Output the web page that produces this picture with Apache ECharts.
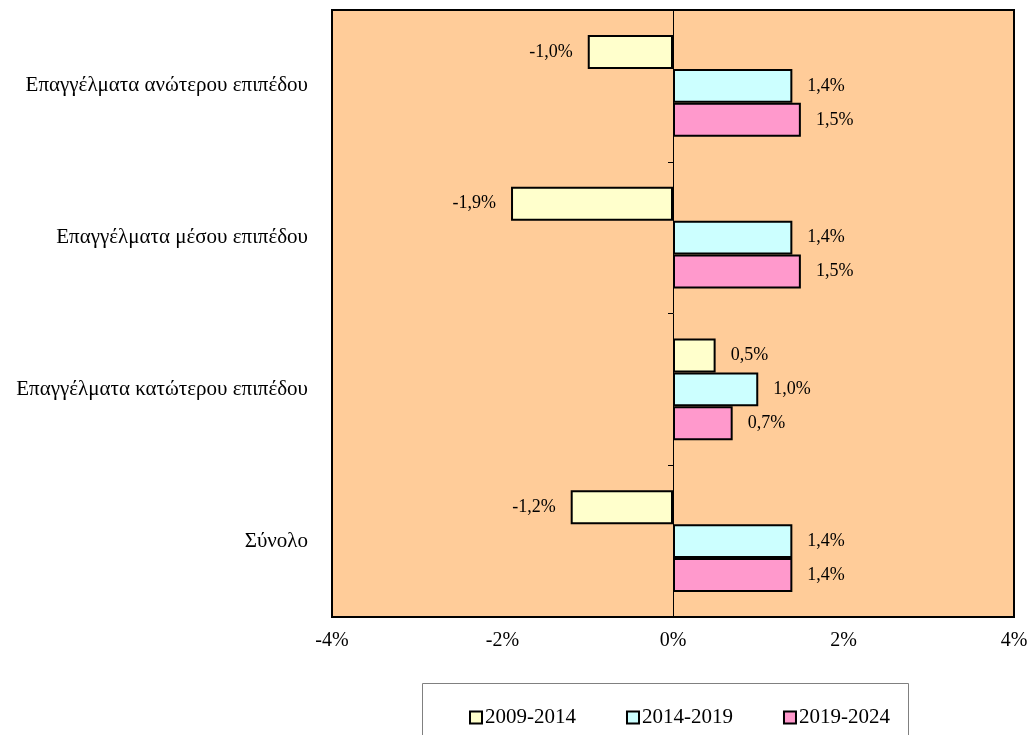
<!DOCTYPE html>
<html>
<head>
<meta charset="utf-8">
<script src="https://cdn.jsdelivr.net/npm/echarts@6/dist/echarts.min.js"></script>
<style>html,body{margin:0;padding:0;background:#fff}#c{width:1032px;height:735px}</style>
</head>
<body>
<div id="c"></div>
<script>
const categories = ['Επαγγέλματα ανώτερου επιπέδου', 'Επαγγέλματα μέσου επιπέδου', 'Επαγγέλματα κατώτερου επιπέδου', 'Σύνολο'];
const seriesNames = ['2009-2014', '2014-2019', '2019-2024'];
const s2009_2014 = [-1.0, -1.9, 0.5, -1.2];
const s2014_2019 = [1.4, 1.4, 1.0, 1.4];
const s2019_2024 = [1.5, 1.5, 0.7, 1.4];
const xTicks = { min: -4, max: 4, interval: 2 };

const colors = ['#FFFFCC', '#CCFFFF', '#FF99CC'];
const FONT = 'Liberation Serif';

function fmt(v) { return v.toFixed(1).replace('.', ',') + '%'; }
function mk(name, vals, color) {
  return {
    name: name, type: 'bar', yAxisIndex: 0,
    barGap: '0%', barCategoryGap: '33%',
    itemStyle: { color: color, borderColor: '#000', borderWidth: 2 },
    data: vals.map(v => ({ value: v, label: { position: v < 0 ? 'left' : 'right' } })),
    label: { show: true, distance: 15, fontFamily: FONT, fontSize: 18, color: '#000',
      formatter: p => fmt(p.value) }
  };
}

const chart = echarts.init(document.getElementById('c'));
chart.setOption({
  animation: false,
  backgroundColor: '#fff',
  grid: { left: 332, top: 10, width: 682, height: 607, show: true, backgroundColor: '#FFCC99', borderColor: '#000', borderWidth: 2 },
  xAxis: {
    type: 'value', min: xTicks.min, max: xTicks.max, interval: xTicks.interval,
    axisLine: { show: false }, axisTick: { show: false }, splitLine: { show: false },
    axisLabel: { formatter: '{value}%', fontFamily: FONT, fontSize: 20, color: '#000', margin: 14 }
  },
  yAxis: [{
    type: 'category', data: categories, inverse: true,
    axisLine: { show: false, onZero: false }, axisTick: { show: false },
    axisLabel: { fontFamily: FONT, fontSize: 21, color: '#000', margin: 24 }
  }, {
    type: 'category', data: categories, inverse: true, position: 'left',
    axisLine: { show: true, onZero: true, lineStyle: { color: '#000', width: 1 } },
    axisTick: { show: true, length: 5, inside: false, lineStyle: { color: '#000', width: 1 } },
    axisLabel: { show: false }
  }],
  legend: {
    left: 464, top: 702, itemWidth: 12, itemHeight: 12, itemGap: 50,
    icon: 'rect',
    textStyle: { fontFamily: FONT, fontSize: 21, color: '#000', padding: [0, 0, 0, -2] },
    data: seriesNames
  },
  graphic: [{ type: 'rect', left: 422, top: 683, shape: { width: 486, height: 60 }, style: { fill: '#fff', stroke: '#808080', lineWidth: 1 }, z: -1 }],
  series: [mk(seriesNames[0], s2009_2014, colors[0]), mk(seriesNames[1], s2014_2019, colors[1]), mk(seriesNames[2], s2019_2024, colors[2])]
});
</script>
</body>
</html>
